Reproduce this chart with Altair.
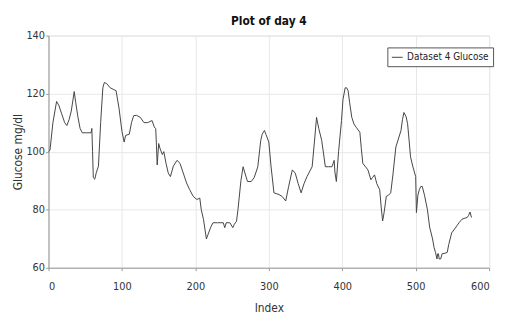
import altair as alt
import pandas as pd

index = [0, 2, 6, 11, 14, 18, 22, 25, 28, 31, 35, 37, 40, 43, 46, 52, 58, 59, 60, 61,
         63, 65, 68, 71, 74, 76, 79, 84, 88, 92, 96, 100, 103, 105, 110, 113, 116, 120, 125, 130,
         135, 141, 144, 146, 147, 148, 150, 152, 155, 157, 160, 163, 166, 170, 175, 179, 183, 188, 192, 197,
         202, 206, 208, 211, 215, 218, 221, 224, 230, 238, 240, 242, 247, 251, 253, 256, 258, 262, 265, 267,
         271, 276, 280, 285, 289, 291, 294, 296, 300, 303, 307, 314, 318, 323, 327, 332, 336, 340, 344, 348,
         352, 359, 362, 365, 368, 372, 377, 381, 386, 389, 390, 392, 395, 399, 401, 404, 406, 408, 410, 413,
         416, 419, 424, 426, 428, 431, 435, 439, 441, 444, 447, 451, 453, 455, 457, 460, 463, 466, 469, 473,
         476, 480, 482, 484, 487, 489, 491, 493, 496, 500, 501, 503, 505, 507, 509, 512, 516, 519, 523, 525,
         527, 529, 530, 531, 532, 534, 536, 540, 543, 545, 549, 552, 556, 559, 563, 566, 570, 572, 574, 576]
glucose = [100, 100.5, 110, 117.3, 116, 113, 110, 109, 111, 114, 120.7, 117, 112, 108, 106.5, 106.5, 106.5, 108, 100, 91,
           90.5, 92.7, 95, 110, 122, 123.8, 123.5, 122, 121.5, 121, 115, 107, 103.3, 105.6, 106, 110, 112.4, 112.5, 111.8, 110,
           110, 110.7, 108.5, 107.9, 102, 95.4, 102.8, 101, 99, 100, 96, 92.7, 91.4, 95, 97, 96, 93, 89.2, 87, 84.6,
           83.5, 84, 80, 76.7, 69.9, 72, 74, 75.5, 75.5, 75.5, 73.8, 75.5, 75.5, 73.8, 75, 76, 80, 90, 94.8, 93,
           89.7, 89.7, 91, 94.8, 103.9, 106, 107.3, 106, 103.3, 95, 85.8, 85.2, 84.6, 83, 88, 93.7, 92.6, 89, 85.8, 89,
           91.4, 94.8, 103, 111.8, 108, 103.9, 94.8, 94.8, 94.8, 97, 93, 89.7, 100, 110.7, 118, 122, 122, 121, 117, 111.8,
           109.5, 108.4, 106.7, 101, 96, 95, 93.7, 90.3, 91, 92, 89, 86.9, 81, 76.1, 79, 84.6, 85, 85.8, 92, 101.6,
           104, 107.3, 111, 113.5, 112, 109.6, 104, 98.2, 95, 91.4, 79, 85, 86.9, 88, 88, 85, 80, 74, 69.9, 67,
           65.3, 63, 64.8, 64.8, 63, 63, 64.8, 65, 65.3, 68, 72, 73, 74.4, 75.5, 76.7, 77, 77.3, 78, 79.2, 77.3]

x_ticks = [0, 100, 200, 300, 400, 500, 600]
y_ticks = [60, 80, 100, 120, 140]
series_name = "Dataset 4 Glucose"

df = pd.DataFrame({"Index": index, "Glucose": glucose, "series": series_name})

FONT = "DejaVu Sans Condensed, Liberation Sans Narrow, Liberation Sans"

chart = alt.Chart(df).mark_line(strokeWidth=1, color="#444444").encode(
    x=alt.X("Index:Q", scale=alt.Scale(domain=[0, 600], nice=False),
            axis=alt.Axis(values=x_ticks, title="Index", format="d", grid=True,
                          gridColor="#e8e8e8", domainColor="#999999", tickColor="#999999",
                          tickSize=3, labelFontSize=11, labelColor="#333333",
                          titleFontSize=12, titleFontWeight="normal", titleColor="#333333",
                          titlePadding=11, labelPadding=10, labelFont=FONT, titleFont=FONT)),
    y=alt.Y("Glucose:Q", scale=alt.Scale(domain=[60, 140], nice=False),
            axis=alt.Axis(values=y_ticks, title="Glucose mg/dl", grid=True,
                          gridColor="#e8e8e8", domainColor="#999999", tickColor="#999999",
                          tickSize=3, labelFontSize=11, labelColor="#333333",
                          titleFontSize=12, titleFontWeight="normal", titleColor="#333333",
                          titlePadding=1, labelPadding=1, labelFont=FONT, titleFont=FONT)),
    stroke=alt.Stroke("series:N", scale=alt.Scale(range=["#444444"]),
                      legend=alt.Legend(title=None, orient="none", legendX=343, legendY=12,
                                        symbolType="stroke", symbolSize=120, symbolStrokeWidth=1,
                                        labelFontSize=10, labelFont=FONT, labelColor="#222222",
                                        strokeColor="#555555", padding=4, fillColor="white")),
).properties(
    width=446, height=235,
    title=alt.TitleParams("Plot of day 4", fontSize=12, fontWeight="bold", font=FONT,
                          color="#111111", anchor="middle", offset=2),
    autosize=alt.AutoSizeParams(type="none"),
    padding={"left": 41, "top": 26, "right": 10, "bottom": 50},
).configure_view(stroke="#999999").configure(background="white")

chart.save("out.html", embed_options={"renderer": "svg", "actions": False})
